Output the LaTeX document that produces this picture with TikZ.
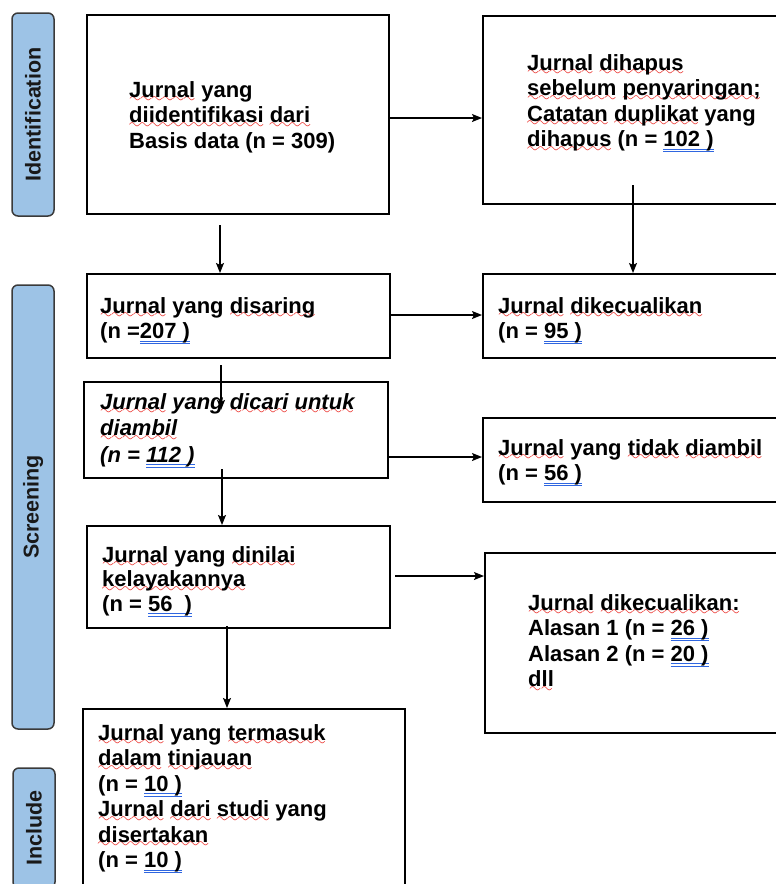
\documentclass[tikz,border=0pt]{standalone}
\usepackage{fontspec}
\setmainfont{Liberation Sans}
\usepackage{xcolor}
\usepackage{tikz}
\usetikzlibrary{arrows.meta}

\definecolor{phaseblue}{HTML}{9DC3E6}
\definecolor{phaseline}{HTML}{3A3A3A}
\definecolor{spellred}{HTML}{E8150F}

\font\wavefont=lasy10 at 15pt
\newsavebox\ulbox
\newcommand\sq[1]{\sbox\ulbox{#1}\rlap{\lower5.5pt\hbox to\wd\ulbox{\color{spellred}\wavefont\xleaders\hbox{\char58}\hfil}}\usebox\ulbox}
\newcommand\nb[1]{\sbox\ulbox{#1}\rlap{\special{pdf:code q 0.184 0.4 0.878 rg 0.184 0.4 0.878 RG}\lower5.6pt\vbox{\hrule width\wd\ulbox height1pt\kern1.3pt\hrule width\wd\ulbox height1pt}\special{pdf:code Q}}\usebox\ulbox}
\newcommand\lines[1]{\begin{tabular}[t]{@{}l@{}}#1\end{tabular}}

\begin{document}
\begin{tikzpicture}[x=1pt,y=-1pt,
  box/.style={draw=black,line width=1.5pt,anchor=north west,inner sep=0pt},
  phase/.style={draw=phaseline,fill=phaseblue,line width=1.5pt,rounded corners=6pt,inner sep=0pt,rotate=90,
    font=\fontsize{21.5}{24}\selectfont\bfseries,text=black!90},
  txt/.style={anchor=base west,inner sep=0pt,font=\fontsize{22}{25.5}\selectfont\bfseries},
  arr/.style={-{Stealth[length=10pt,width=8pt,inset=2pt]},line width=1.3pt}]
\useasboundingbox (0,0) rectangle (776,884);
\clip (0,0) rectangle (776,884);

\node[phase,minimum width=203pt,minimum height=42pt] (phId) at (33,114.5) {Identification};
\node[phase,minimum width=444pt,minimum height=42pt] (phScr) at (33,507) {Screening};
\node[phase,minimum width=120pt,minimum height=42pt] (phInc) at (34,828) {Include};

\node[box,minimum width=302pt,minimum height=199pt] (boxA) at (86,14) {};
\node[box,minimum width=308pt,minimum height=188pt] (boxB) at (482,15) {};
\node[box,minimum width=303pt,minimum height=84pt] (boxC) at (86,273) {};
\node[box,minimum width=308pt,minimum height=84pt] (boxD) at (482,273) {};
\node[box,minimum width=304pt,minimum height=96pt] (boxE) at (83,381) {};
\node[box,minimum width=308pt,minimum height=84pt] (boxF) at (482,417) {};
\node[box,minimum width=303pt,minimum height=102pt] (boxG) at (86,525) {};
\node[box,minimum width=306pt,minimum height=180pt] (boxH) at (484,552) {};
\node[box,minimum width=322pt,minimum height=192pt] (boxI) at (82,708) {};

\node[txt] (txtA) at (129,97) {\lines{\sq{Jurnal} yang\\ \sq{diidentifikasi} \sq{dari}\\ Basis data (n = 309)}};
\node[txt] (txtB) at (527,70) {\lines{\sq{Jurnal} \sq{dihapus}\\ \sq{sebelum} \sq{penyaringan;}\\ \sq{Catatan} \sq{duplikat} yang\\ \sq{dihapus} (n = \nb{102 )}}};
\node[txt] (txtC) at (100,313) {\lines{\sq{Jurnal} yang \sq{disaring}\\ (n =\nb{207 )}}};
\node[txt] (txtD) at (498,313) {\lines{\sq{Jurnal} \sq{dikecualikan}\\ (n = \nb{95 )}}};
\node[txt,font=\fontsize{22}{26.5}\selectfont\bfseries\itshape] (txtE) at (100,409) {\lines{\sq{Jurnal} yang \sq{dicari} \sq{untuk}\\ \sq{diambil}\\ (n = \nb{112 )}}};
\node[txt] (txtF) at (498,455) {\lines{\sq{Jurnal} yang \sq{tidak} \sq{diambil}\\ (n = \nb{56 )}}};
\node[txt,font=\fontsize{22}{24.5}\selectfont\bfseries] (txtG) at (102,562) {\lines{\sq{Jurnal} yang \sq{dinilai}\\ \sq{kelayakannya}\\ (n = \nb{56\ \ )}}};
\node[txt] (txtH) at (528,610) {\lines{\sq{Jurnal} \sq{dikecualikan:}\\ Alasan 1 (n = \nb{26 )}\\ Alasan 2 (n = \nb{20 )}\\ \sq{dll}}};
\node[txt] (txtI) at (98,740) {\lines{\sq{Jurnal} yang \sq{termasuk}\\ \sq{dalam} \sq{tinjauan}\\ (n = \nb{10 )}\\ \sq{Jurnal} \sq{dari} \sq{studi} yang\\ \sq{disertakan}\\ (n = \nb{10 )}}};

\coordinate (ab) at (0,118);
\coordinate (aDown) at (220,225);
\coordinate (bDown) at (633,185);
\coordinate (cd) at (0,315);
\coordinate (cDown) at (221,365);
\coordinate (cTip) at (221,410);
\coordinate (ef) at (0,457);
\coordinate (eDown) at (222,469);
\coordinate (gh) at (395,576);
\coordinate (gDown) at (227,626);

\draw[arr] (boxA.east |- ab) -- (boxB.west |- ab);
\draw[arr] (aDown) -- (aDown |- boxC.north);
\draw[arr] (bDown) -- (bDown |- boxD.north);
\draw[arr] (boxC.east |- cd) -- (boxD.west |- cd);
\draw[arr] (cDown) -- (cTip);
\draw[arr] (boxE.east |- ef) -- (boxF.west |- ef);
\draw[arr] (eDown) -- (eDown |- boxG.north);
\draw[arr] (gh) -- (boxH.west |- gh);
\draw[arr] (gDown) -- (gDown |- boxI.north);
\end{tikzpicture}
\end{document}
